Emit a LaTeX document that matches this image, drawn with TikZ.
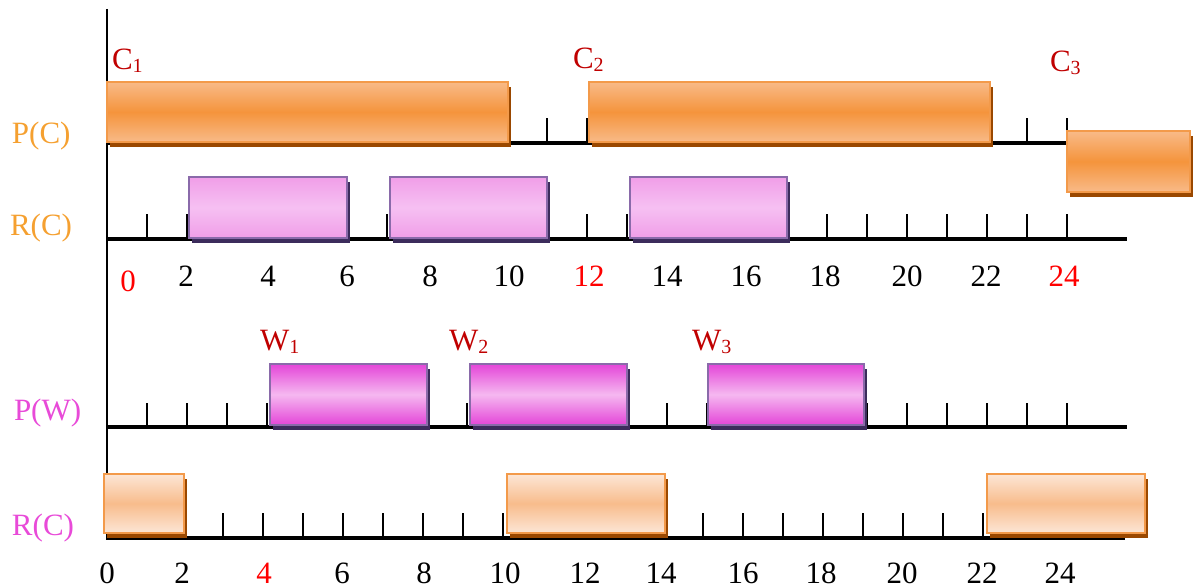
\documentclass[tikz,border=0pt]{standalone}
\usepackage{fontspec}
\setmainfont{Liberation Serif}
\usetikzlibrary{shadows}

% palette
\definecolor{cedge}{HTML}{F8BA88}
\definecolor{cmid}{HTML}{F5943C}
\definecolor{cborder}{HTML}{F39A4A}
\definecolor{cshadow}{HTML}{9A4800}
\definecolor{ledge}{HTML}{FCE6D6}
\definecolor{lmid}{HTML}{F8BC8C}
\definecolor{redge}{HTML}{F09EE8}
\definecolor{rmid}{HTML}{F6C0F2}
\definecolor{wedge}{HTML}{E445D8}
\definecolor{wmid}{HTML}{F5B8F0}
\definecolor{mborder}{HTML}{8A6AAA}
\definecolor{mshadow}{HTML}{3C2C5C}
\definecolor{lblorange}{HTML}{F5A030}
\definecolor{lblmagenta}{HTML}{E84AD8}
\definecolor{darkred}{HTML}{C00000}
\definecolor{brightred}{HTML}{FF0000}

\newcommand{\lsub}[1]{\raisebox{-3pt}{\fontsize{20}{20}\selectfont #1}}

\begin{document}
\begin{tikzpicture}[x=1pt,y=-1pt,
  bigtext/.style={font=\fontsize{31}{31}\selectfont, inner sep=0pt, outer sep=0pt},
  rowlabel/.style={bigtext, anchor=base west},
  jobname/.style={bigtext, anchor=base west, text=darkred},
  num/.style={bigtext, anchor=base},
  axisline/.style={line width=3.5pt},
  vline/.style={line width=2.5pt},
  tickline/.style={line width=2.5pt},
  boxbase/.style={rectangle, inner sep=0pt, outer sep=0pt, anchor=north west},
  cbox/.style={boxbase, draw=cborder, line width=2pt,
    top color=cedge, bottom color=cedge, middle color=cmid,
    drop shadow={shadow xshift=3pt, shadow yshift=-5pt, fill=cshadow, opacity=1}},
  lbox/.style={boxbase, draw=cborder, line width=2pt,
    top color=ledge, bottom color=ledge, middle color=lmid,
    drop shadow={shadow xshift=3pt, shadow yshift=-5pt, fill=cshadow, opacity=1}},
  rbox/.style={boxbase, draw=mborder, line width=2.2pt,
    top color=redge, bottom color=redge, middle color=rmid,
    drop shadow={shadow xshift=3pt, shadow yshift=-5pt, fill=mshadow, opacity=1}},
  wbox/.style={boxbase, draw=mborder, line width=2.2pt,
    top color=wedge, bottom color=wedge, middle color=wmid,
    drop shadow={shadow xshift=3pt, shadow yshift=-5pt, fill=mshadow, opacity=1}},
]
\useasboundingbox (0,0) rectangle (1198,588);

% time axes
\coordinate (vtop) at (107,9);
\coordinate (vbot) at (107,540);
\draw[vline] (vtop) -- (vbot);

\coordinate (pcA) at (107,143);  \coordinate (pcB) at (1127,143);
\coordinate (rcA) at (107,239);  \coordinate (rcB) at (1127,239);
\coordinate (pwA) at (107,427);  \coordinate (pwB) at (1127,427);
\coordinate (rwA) at (107,538);  \coordinate (rwB) at (1125,538);
\draw[axisline] (pcA) -- (pcB);
\draw[axisline] (rcA) -- (rcB);
\draw[axisline] (pwA) -- (pwB);
\draw[axisline] (rwA) -- (rwB);

% unit ticks
\foreach \t in {1,...,24} {
  \draw[tickline] ({107+40*\t},143) -- ++(0,-25);
  \draw[tickline] ({107+40*\t},239) -- ++(0,-25);
  \draw[tickline] ({107+40*\t},427) -- ++(0,-24);
  \draw[tickline] ({103+40*\t},538) -- ++(0,-25);
}

% row labels
\node[rowlabel, text=lblorange] (lblpc) at (12,144) {P(C)};
\node[rowlabel, text=lblorange] (lblrc) at (10,235) {R(C)};
\node[rowlabel, text=lblmagenta] (lblpw) at (14,420) {P(W)};
\node[rowlabel, text=lblmagenta] (lblrw) at (12,535) {R(C)};

% periods of C
\node[cbox, minimum width=401pt, minimum height=60pt] (c1) at (107,82) {};
\node[cbox, minimum width=401pt, minimum height=60pt] (c2) at (589,82) {};
\node[cbox, minimum width=123pt, minimum height=61pt] (c3) at (1067,131) {};
\node[jobname] (nc1) at (112,70) {C\lsub{1}};
\node[jobname] (nc2) at (573,69) {C\lsub{2}};
\node[jobname] (nc3) at (1050,72) {C\lsub{3}};

% responses of C
\node[rbox, minimum width=158pt, minimum height=61pt] (r1) at (189,177) {};
\node[rbox, minimum width=157pt, minimum height=61pt] (r2) at (390,177) {};
\node[rbox, minimum width=157pt, minimum height=61pt] (r3) at (630,177) {};

% periods of W
\node[wbox, minimum width=157pt, minimum height=61pt] (w1) at (270,364) {};
\node[wbox, minimum width=157pt, minimum height=61pt] (w2) at (470,364) {};
\node[wbox, minimum width=156pt, minimum height=61pt] (w3) at (708,364) {};
\node[jobname] (nw1) at (260,350) {W\lsub{1}};
\node[jobname] (nw2) at (449,350) {W\lsub{2}};
\node[jobname] (nw3) at (692,350) {W\lsub{3}};

% responses of C seen from W
\node[lbox, minimum width=80pt, minimum height=59pt] (b1) at (104,474) {};
\node[lbox, minimum width=158pt, minimum height=59pt] (b2) at (507,474) {};
\node[lbox, minimum width=158pt, minimum height=59pt] (b3) at (987,474) {};

% upper time scale
\node[num, text=brightred] (ta0) at (128,291) {0};
\node[num] (ta2) at (186,286) {2};
\node[num] (ta4) at (268,286) {4};
\node[num] (ta6) at (347,286) {6};
\node[num] (ta8) at (430,286) {8};
\node[num] (ta10) at (509,286) {10};
\node[num, text=brightred] (ta12) at (589,286) {12};
\node[num] (ta14) at (667,286) {14};
\node[num] (ta16) at (746,286) {16};
\node[num] (ta18) at (825,286) {18};
\node[num] (ta20) at (907,286) {20};
\node[num] (ta22) at (986,286) {22};
\node[num, text=brightred] (ta24) at (1064,286) {24};

% lower time scale
\node[num] (tb0) at (107,583) {0};
\node[num] (tb2) at (182,583) {2};
\node[num, text=brightred] (tb4) at (264,583) {4};
\node[num] (tb6) at (342,583) {6};
\node[num] (tb8) at (424,583) {8};
\node[num] (tb10) at (505,583) {10};
\node[num] (tb12) at (585,583) {12};
\node[num] (tb14) at (661,583) {14};
\node[num] (tb16) at (743,583) {16};
\node[num] (tb18) at (821,583) {18};
\node[num] (tb20) at (902,583) {20};
\node[num] (tb22) at (982,583) {22};
\node[num] (tb24) at (1060,583) {24};
\end{tikzpicture}
\end{document}
